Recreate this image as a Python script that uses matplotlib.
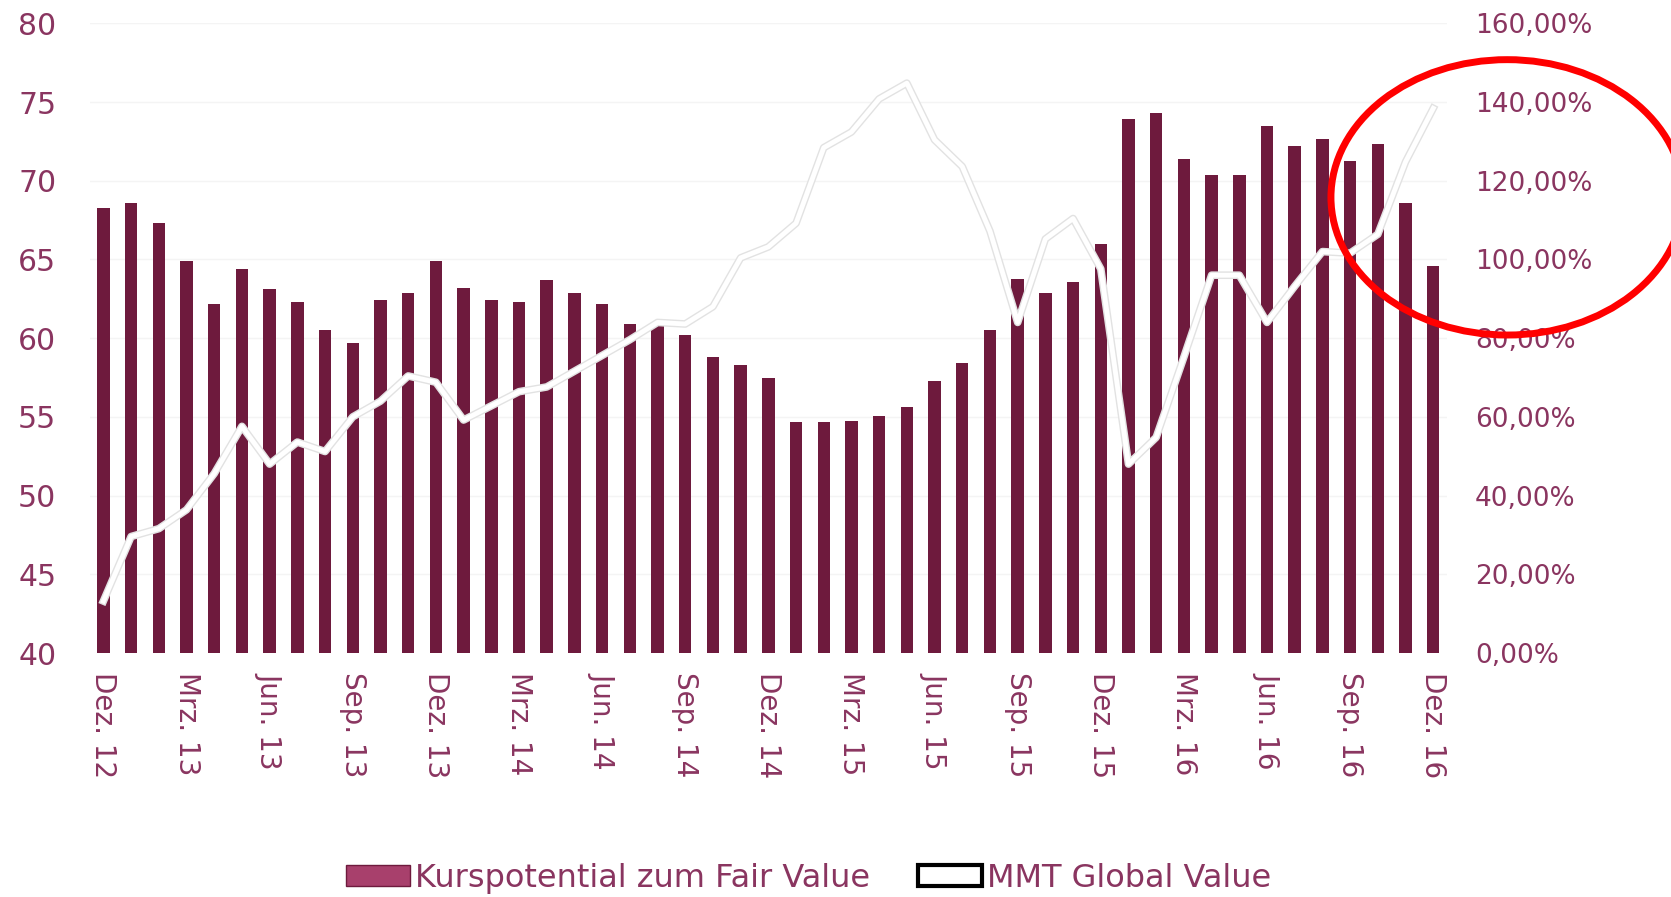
import matplotlib
matplotlib.use('Agg')
import matplotlib.pyplot as plt
import matplotlib.patheffects as pe
from matplotlib.patches import Patch, Ellipse

months = ['Dez. 12', 'Jan. 13', 'Feb. 13', 'Mrz. 13', 'Apr. 13', 'Mai 13', 'Jun. 13', 'Jul. 13',
          'Aug. 13', 'Sep. 13', 'Okt. 13', 'Nov. 13', 'Dez. 13', 'Jan. 14', 'Feb. 14', 'Mrz. 14',
          'Apr. 14', 'Mai 14', 'Jun. 14', 'Jul. 14', 'Aug. 14', 'Sep. 14', 'Okt. 14', 'Nov. 14',
          'Dez. 14', 'Jan. 15', 'Feb. 15', 'Mrz. 15', 'Apr. 15', 'Mai 15', 'Jun. 15', 'Jul. 15',
          'Aug. 15', 'Sep. 15', 'Okt. 15', 'Nov. 15', 'Dez. 15', 'Jan. 16', 'Feb. 16', 'Mrz. 16',
          'Apr. 16', 'Mai 16', 'Jun. 16', 'Jul. 16', 'Aug. 16', 'Sep. 16', 'Okt. 16', 'Nov. 16',
          'Dez. 16']

# Kurspotential zum Fair Value (right axis, %)
kurspotential = [113.2, 114.4, 109.2, 99.6, 88.8, 97.6, 92.4, 89.2, 82.0, 78.8,
                 89.6, 91.6, 99.6, 92.8, 89.6, 89.2, 94.8, 91.6, 88.8, 83.6,
                 84.0, 80.8, 75.2, 73.2, 70.0, 58.8, 58.8, 58.9, 60.1, 62.6,
                 69.0, 73.6, 82.0, 95.1, 91.5, 94.2, 103.9, 135.7, 137.3, 125.6,
                 121.4, 121.4, 134.0, 128.9, 130.6, 125.1, 129.3, 114.3, 98.4]

# MMT Global Value (left axis)
mmt = [43.3, 47.4, 47.9, 49.1, 51.4, 54.4, 52.0, 53.4, 52.8, 55.0,
       56.0, 57.6, 57.2, 54.8, 55.7, 56.6, 56.9, 57.9, 58.9, 59.9,
       61.0, 60.9, 62.0, 65.1, 65.8, 67.3, 72.1, 73.1, 75.2, 76.2,
       72.6, 70.9, 66.8, 61.0, 66.3, 67.6, 64.4, 52.0, 53.7, 58.8,
       64.0, 64.0, 61.0, 63.3, 65.5, 65.4, 66.6, 71.2, 74.6]

left_ticks = [40, 45, 50, 55, 60, 65, 70, 75, 80]
right_ticks = [0, 20, 40, 60, 80, 100, 120, 140, 160]

bar_color = '#6e1a3d'
text_color = '#8a3560'

fig = plt.figure(figsize=(16.71, 8.97), dpi=100)
ax = fig.add_axes([0.0536, 0.272, 0.8124, 0.702])
ax2 = ax.twinx()

x = list(range(len(months)))
for g in right_ticks[1:]:
    ax2.axhline(g, color='#f4f4f4', lw=1, zorder=0)
ax2.bar(x, kurspotential, width=0.45, color=bar_color, zorder=2)
ax2.set_ylim(0, 160)
ax2.set_yticks(right_ticks)
ax2.set_yticklabels([f'{t},00%' for t in right_ticks])

ax.set_zorder(ax2.get_zorder() + 1)
ax.patch.set_visible(False)
ax.plot(x, mmt, color='white', lw=3.5, zorder=3,
        path_effects=[pe.Stroke(linewidth=5.5, foreground='#e2e2e2'), pe.Normal()])
ax.set_ylim(40, 80)
ax.set_yticks(left_ticks)
ax.set_xlim(-0.5, len(months) - 0.5)
ax.set_xticks(x[::3])
ax.set_xticklabels(months[::3], rotation=-90, va='top', ha='center')

for a in (ax, ax2):
    for s in a.spines.values():
        s.set_visible(False)
    a.tick_params(length=0, colors=text_color)
ax.tick_params(axis='y', labelsize=21.5, pad=24)
ax.tick_params(axis='x', labelsize=20, pad=14)
ax2.tick_params(axis='y', labelsize=19, pad=20)

handles = [Patch(facecolor='#a8406c', edgecolor='#6e1a3d', label='Kurspotential zum Fair Value'),
           Patch(facecolor='white', edgecolor='black', linewidth=3, label='MMT Global Value')]
leg = fig.legend(handles=handles, loc='center', bbox_to_anchor=(0.484, 0.021), ncol=2,
                 frameon=False, fontsize=23, handlelength=2.0, handleheight=0.6,
                 handletextpad=0.15, columnspacing=1.5)
for t in leg.get_texts():
    t.set_color(text_color)

ell = Ellipse((0.902, 0.78), 0.211, 0.307, transform=fig.transFigure,
              fill=False, edgecolor='#ff0000', linewidth=5, zorder=10)
fig.add_artist(ell)

fig.savefig('out.png', dpi=100)
